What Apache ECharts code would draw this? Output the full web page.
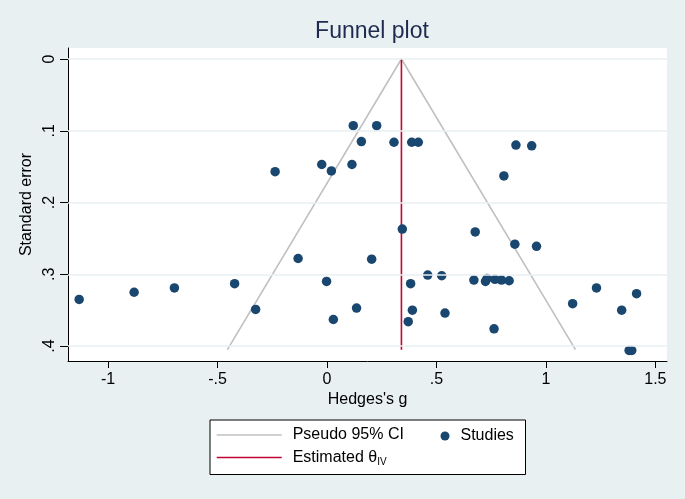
<!DOCTYPE html>
<html><head><meta charset="utf-8">
<script src="https://cdn.jsdelivr.net/npm/echarts@6/dist/echarts.min.js"></script>
<style>html,body{margin:0;padding:0;background:#e8f0f2}#c{width:685px;height:499px}</style>
</head><body><div id="c"></div>
<script>
// ---- data ----
const studiesX = [-1.132,-0.881,-0.697,-0.422,-0.326,-0.237,-0.132,-0.024,-0.002,0.020,0.029,0.114,0.120,0.135,0.157,0.204,0.227,0.306,0.344,0.371,0.382,0.387,0.390,0.417,0.460,0.524,0.539,0.671,0.677,0.724,0.731,0.763,0.767,0.797,0.808,0.832,0.858,0.863,0.935,0.957,1.122,1.231,1.346,1.380,1.392,1.414];
const studiesSE = [0.335,0.325,0.319,0.313,0.349,0.157,0.278,0.147,0.310,0.156,0.363,0.147,0.093,0.347,0.115,0.279,0.093,0.116,0.237,0.366,0.313,0.116,0.350,0.116,0.301,0.302,0.354,0.308,0.241,0.310,0.306,0.376,0.307,0.308,0.163,0.309,0.258,0.120,0.121,0.261,0.341,0.319,0.350,0.406,0.406,0.327];
const funnelX = [-0.455, 0.340, 1.135];
const funnelSE = [0.405, 0, 0.405];
const estimateX = [0.340, 0.340];
const estimateSE = [0, 0.405];
const xTicks = [-1, -0.5, 0, 0.5, 1, 1.5];
const xTickLabels = ['-1', '-.5', '0', '.5', '1', '1.5'];
const yTicks = [0, 0.1, 0.2, 0.3, 0.4];
const yTickLabels = ['0', '.1', '.2', '.3', '.4'];

const FONT = '"Liberation Sans", Arial, Helvetica, sans-serif';
function lab(ticks, labels) {
  return function (v) {
    for (let i = 0; i < ticks.length; i++) if (Math.abs(v - ticks[i]) < 1e-9) return labels[i];
    return '';
  };
}
const zip = (a, b) => a.map((v, i) => [v, b[i]]);

const chart = echarts.init(document.getElementById('c'), null, {renderer: 'canvas'});
chart.setOption({
  backgroundColor: '#e8f0f2',
  animation: false,
  textStyle: {fontFamily: FONT},
  title: {
    text: 'Funnel plot', left: 367, top: 15, textAlign: 'center',
    textStyle: {fontFamily: FONT, fontSize: 23, fontWeight: 'normal', color: '#1e2a4f'}
  },
  grid: {left: 68, right: 18, top: 48, bottom: 138, show: true, backgroundColor: '#ffffff', borderWidth: 0, containLabel: false},
  xAxis: {
    type: 'value', min: -1.183, max: 1.553,
    name: "Hedges's g", nameLocation: 'middle', nameGap: 31, nameMoveOverlap: false,
    nameTextStyle: {fontFamily: FONT, fontSize: 16, color: '#000'},
    axisLine: {show: true, onZero: false, lineStyle: {color: '#000', width: 1}},
    axisTick: {show: true, length: 7, customValues: xTicks, lineStyle: {color: '#000'}},
    axisLabel: {customValues: xTicks, formatter: lab(xTicks, xTickLabels), margin: 11, fontSize: 16, color: '#000', fontFamily: FONT},
    splitLine: {show: false}
  },
  yAxis: {
    type: 'value', inverse: true, min: -0.0153, max: 0.4208,
    name: 'Standard error', nameLocation: 'middle', nameGap: 33, nameMoveOverlap: false,
    nameTextStyle: {fontFamily: FONT, fontSize: 16, color: '#000'},
    axisLine: {show: true, onZero: false, lineStyle: {color: '#000', width: 1}},
    axisTick: {show: true, length: 8, customValues: yTicks, lineStyle: {color: '#000'}},
    axisLabel: {customValues: yTicks, formatter: lab(yTicks, yTickLabels), rotate: 90, margin: 10, fontSize: 16, color: '#000', fontFamily: FONT},
    splitLine: {show: false}
  },
  legend: [
    {
      data: [{name: 'Pseudo 95% CI', icon: 'rect'}, {name: 'Estimated θIV', icon: 'rect'}],
      orient: 'vertical', left: 216.7, top: 427, padding: 0,
      itemWidth: 65, itemHeight: 1.6, itemGap: 5, selectedMode: false,
      formatter: function (n) { return n === 'Estimated θIV' ? '{n|Estimated θ}{sub|IV}' : '{n|' + n + '}'; },
      textStyle: {fontFamily: FONT, fontSize: 16, color: '#000', padding: [0, 0, 0, 6],
        rich: {n: {fontFamily: FONT, fontSize: 16, lineHeight: 20, color: '#000'},
               sub: {fontFamily: FONT, fontSize: 10, lineHeight: 20, color: '#000', padding: [9, 0, 0, 0]}}}
    },
    {
      data: ['Studies'], left: 440.5, top: 426, padding: 0, itemWidth: 9, itemHeight: 9, selectedMode: false,
      textStyle: {fontFamily: FONT, fontSize: 16, color: '#000', lineHeight: 20, padding: [0, 0, 0, 6]}
    }
  ],
  graphic: [{
    type: 'rect', left: 209.5, top: 419.5, z: -1,
    shape: {width: 315.5, height: 54.5},
    style: {fill: '#ffffff', stroke: '#000000', lineWidth: 1}
  }],
  series: [
    {
      name: 'grid', type: 'line', data: [], silent: true, z: 0,
      markLine: {
        silent: true, symbol: ['none', 'none'], label: {show: false},
        lineStyle: {color: '#e8eff2', width: 1.5, type: 'solid'},
        data: yTicks.map(v => ({yAxis: v}))
      }
    },
    {
      name: 'Pseudo 95% CI', type: 'line', data: zip(funnelX, funnelSE), symbol: 'none', z: 2,
      lineStyle: {color: '#c0c0c0', width: 1.6}, itemStyle: {color: '#c0c0c0'}
    },
    {
      name: 'Estimated θIV', type: 'line', data: zip(estimateX, estimateSE), symbol: 'none', z: 3,
      lineStyle: {color: '#c10534', width: 1.6}, itemStyle: {color: '#c10534'}
    },
    {
      name: 'Studies', type: 'scatter', data: zip(studiesX, studiesSE), symbol: 'circle', symbolSize: 9.5, z: 4,
      itemStyle: {color: '#1a476f', opacity: 1}
    }
  ]
});
</script></body></html>
